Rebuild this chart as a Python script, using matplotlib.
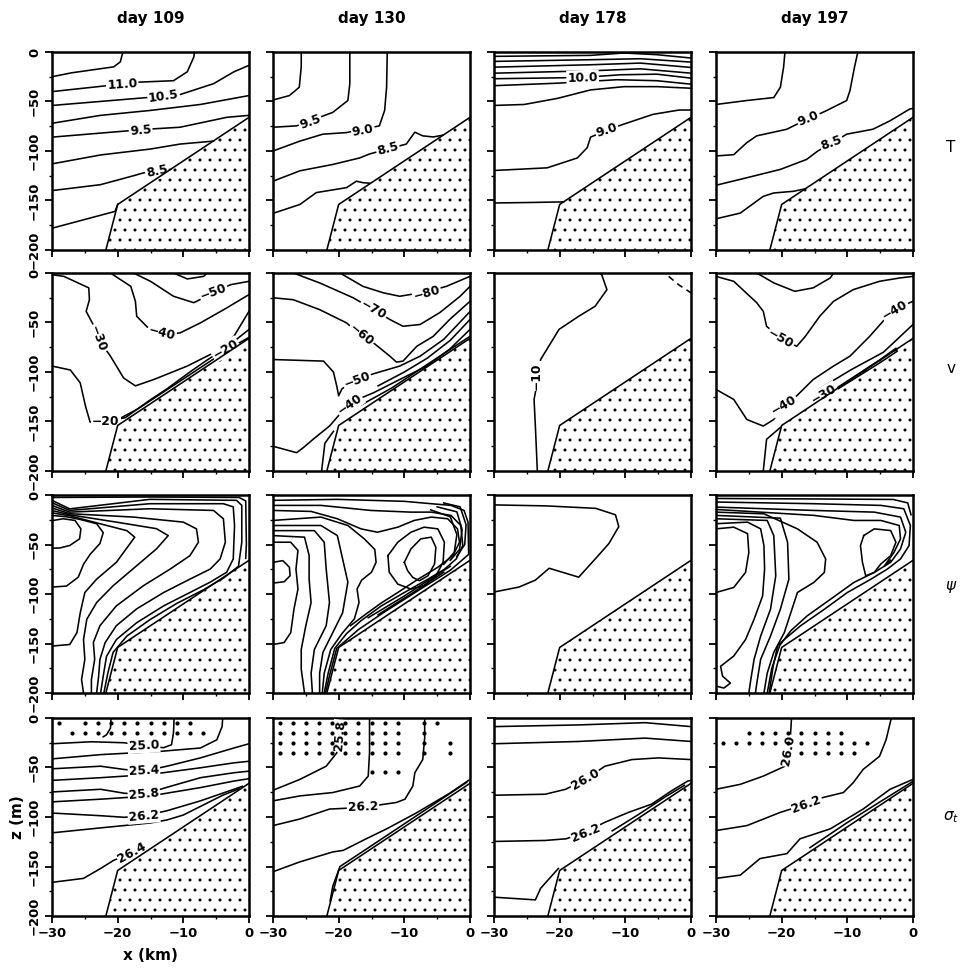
import matplotlib.pyplot as plt
from matplotlib.ticker import MultipleLocator

plt.rcParams['font.family'] = 'DejaVu Sans'
plt.rcParams['hatch.linewidth'] = 0.6
plt.rcParams['mathtext.fontset'] = 'dejavusans'

days = ['day 109', 'day 130', 'day 178', 'day 197']
row_names = ['T', 'v', r'$\psi$', r'$\sigma_t$']
x_ticks = [-30, -20, -10, 0]
z_ticks = [0, -50, -100, -150, -200]

# shelf / slope bottom profile (x km, z m)
topo_x = [-21.8, -20.0, 0.0]
topo_z = [-200, -154, -66]

# ---- temperature contours: lists of (x, z)
T109 = [
    [(-30, -25), (-27, -21), (-20.6, -15), (-19.6, -10), (-19.2, 0)],
    [(-30, -40), (-21.6, -34), (-17, -30.5), (-11.5, -29), (-9.4, -20), (-8.4, -5), (-8.3, 0)],
    [(-30, -54), (-15.5, -46), (-10.5, -43), (-5.4, -32), (-2.3, -20), (0, -13.5)],
    [(-30, -72), (-22.6, -64), (-15, -59), (-7.4, -53), (0, -44)],
    [(-30, -86), (-15.5, -78), (-10.5, -76), (-3.4, -66), (0, -64)],
    [(-30, -113), (-22.6, -104), (-15, -98), (-10.5, -93), (-5.4, -90)],
    [(-30, -140), (-22.6, -134), (-17.6, -125), (-16, -122), (-11.9, -118.5)],
    [(-30, -178), (-25.2, -169.5), (-20.4, -161), (-20, -154)],
]
T109_lab = [('11.0', -19.3, -33, 4), ('10.5', -13, -45, 8), ('9.5', -16.5, -79, 5), ('8.5', -14, -121, 12)]

T130 = [
    [(-30, -48.5), (-27.5, -44), (-26, -35.6), (-25.7, -15), (-25.7, 0)],
    [(-30, -76), (-26.4, -74.6), (-20.9, -61), (-18.6, -49), (-18.3, -32), (-18.3, 0)],
    [(-30, -100), (-25.9, -90), (-22.4, -83), (-18.8, -81.4), (-13.8, -74.6), (-13, -59), (-12.7, -35.6), (-12.6, 0)],
    [(-30, -130.5), (-25.9, -120), (-20.9, -113.6), (-16.8, -107), (-15.3, -103), (-9.7, -93), (-8.4, -81),
     (-7.2, -84.7), (-5.6, -85.8), (-4.1, -84)],
    [(-30, -163), (-25.9, -154), (-23.4, -142), (-18.8, -137), (-17.3, -130.5), (-16.3, -132), (-15.3, -132.5)],
]
T130_lab = [('9.5', -24.3, -71, 20), ('9.0', -16.3, -79, 10), ('8.5', -12.5, -98, 15)]

T178 = [
    [(-30, -4.4), (-15.3, -3.4), (-10.2, -1), (-5.2, -2.7), (0, -6.1)],
    [(-30, -9.5), (-15.3, -7.8), (-7.7, -6.8), (0, -10.2)],
    [(-30, -15.3), (-15.3, -12.9), (-7.7, -11.2), (0, -15.6)],
    [(-30, -21.4), (-15.3, -19), (-7.7, -17), (0, -21.4)],
    [(-30, -27), (-16.8, -25.8), (-10.7, -23), (-5.2, -22.4), (0, -26.4)],
    [(-30, -34), (-20.3, -31.5), (-11.3, -28), (-5.2, -29), (0, -32.5)],
    [(-30, -54), (-25.4, -53), (-20.3, -46.8), (-15.3, -38.3), (-10.2, -35), (-5.2, -35), (0, -36.6)],
    [(-30, -119.7), (-21.9, -117), (-17.3, -107), (-15.8, -96.6), (-15.3, -86), (-12.8, -79),
     (-10.3, -73), (-5.8, -63), (-1.8, -58.6), (0, -58.6)],
    [(-30, -152.5), (-24.4, -152), (-19.4, -151.4)],
]
T178_lab = [('10.0', -16.5, -25.8, 2), ('9.0', -12.8, -79, 18)]

T197 = [
    [(-30, -53), (-25.3, -49), (-21.2, -46), (-20.2, -35.6), (-19.7, -15), (-19.5, 0)],
    [(-30, -105), (-27.3, -103.7), (-25.3, -91.5), (-23.8, -84.7), (-19.2, -78), (-18.2, -74.6), (-13.2, -59.3),
     (-10.1, -49), (-9.6, -39), (-8.9, -15), (-8.4, 0)],
    [(-30, -134.6), (-25.3, -127), (-20.2, -118.6), (-16.2, -108.5), (-14.5, -100), (-12.6, -93), (-10.1, -83),
     (-6.1, -78), (-3.5, -69.5), (-0.5, -57.6), (0, -57)],
    [(-30, -168.5), (-26.3, -162.7), (-22.8, -145.8), (-21.2, -142.4), (-18.2, -140.7), (-16.4, -138.2)],
]
T197_lab = [('9.0', -15.9, -67, 22), ('8.5', -12.4, -92, 20)]

# ---- alongshore velocity contours
V109 = [
    [(-17.6, 0), (-15, -8.4), (-11.5, -23.5), (-8.4, -30), (-5.4, -20), (-2.8, -11.8), (0, -8.4)],
    [(-11.5, 0), (-9.4, -6), (-6.9, -3.4), (-6.4, 0)],
    [(-21.1, 0), (-18, -13.5), (-17.3, -28.6), (-17.1, -43.7), (-15.5, -54.5), (-13, -62), (-10.5, -60.5),
     (-7.4, -50.4), (-3.4, -35.3), (0, -21.8)],
    [(-30, -1.7), (-28.2, -3.4), (-24.4, -15), (-24.3, -27), (-24.8, -38.7), (-23.5, -55), (-22.9, -67),
     (-21.1, -84), (-19.1, -106), (-17.3, -114), (-14.5, -107.6), (-9.4, -94), (-4.9, -79), (-2.3, -64), (0, -38.7)],
    [(-30, -94), (-27.2, -98), (-25.7, -111), (-24.9, -134.5), (-24.2, -150.6), (-21.6, -150), (-18.8, -146),
     (-15, -128), (-12.5, -117), (-9, -100), (-6.4, -88), (-3.6, -76), (0, -57)],
    [(-20.8, -151), (-17, -137.5), (-14, -124.5), (-10, -107), (-6, -89.5), (-2.8, -75.5), (0, -65)],
]
V109_lab = [('−50', -5.4, -19, 20), ('−40', -13.3, -61, -15), ('−30', -23, -66, -70),
            ('−20', -21.8, -150, 0), ('−20', -3.6, -77, 30)]

V130 = [
    [(-19.8, 0), (-16.3, -13.5), (-13.2, -20), (-10.7, -23.5), (-6.6, -19), (-3.6, -13.5), (0, -3.4)],
    [(-26.9, 0), (-22.9, -10), (-17.8, -25), (-14.7, -37), (-12.2, -47), (-10.2, -53.8), (-7.6, -52),
     (-4.6, -40), (-1.5, -23.5), (0, -13.5)],
    [(-30, -25), (-26.9, -27), (-22.9, -37), (-18.8, -50.4), (-16.8, -62), (-14.7, -70.6), (-12.2, -84),
     (-11.2, -90), (-10.2, -89), (-8.1, -74), (-5.6, -64), (-3.1, -47), (0, -28.6)],
    [(-30, -87.4), (-22.3, -89), (-20.8, -100), (-20.3, -114), (-20, -124), (-19.5, -117), (-17.4, -108),
     (-14.8, -102), (-10.7, -94), (-7.6, -84), (-4, -67), (0, -39)],
    [(-14, -114), (-10, -100), (-6.5, -86), (-3, -68), (0, -47)],
    [(-30, -175), (-26.4, -181.5), (-25.4, -176.5), (-23.9, -168), (-21.4, -154.6), (-18.3, -131),
     (-14.7, -121), (-10.7, -107.6), (-6.6, -94), (-3.1, -77), (0, -57)],
    [(-16.5, -133), (-12, -116.5), (-7, -94.5), (-3, -77), (0, -64)],
    [(-22.6, -200), (-22.1, -172), (-20.8, -160)],
]
V130_lab = [('−80', -6.6, -20, 15), ('−70', -14.7, -37, -30), ('−60', -16.6, -63, -40),
            ('−50', -17.2, -108, 20), ('−40', -18.3, -133, 35)]

V178 = [
    [(-23.4, -200), (-23.7, -154.6), (-23.9, -127.7), (-23.4, -110), (-22.9, -87.4), (-20.1, -57),
     (-17.1, -43.7), (-14.6, -33.6), (-12.8, -16.8), (-13.6, -1.7), (-13.8, 0)],
]
V178_lab = [('−10', -23.6, -104, 90)]
V178_dash = [(-3.4, -3.4), (-1.9, -11.8), (0, -20)]

V197 = [
    [(-23.8, 0), (-21.2, -10), (-18, -18.5), (-15.2, -15), (-12.6, -5), (-12.1, 0)],
    [(-30, -3.4), (-27.3, -8.4), (-23.8, -30), (-22.8, -38.7), (-22.3, -53.8), (-20, -67), (-17.7, -74),
     (-16.4, -64), (-14.2, -43.7), (-12.1, -28.6), (-9.1, -16.8), (-5.1, -8.4), (-2, -5), (0, -3.4)],
    [(-30, -117.6), (-27.3, -127.7), (-25.3, -148), (-22.8, -154.6), (-21.2, -148), (-19.7, -133),
     (-17.7, -124), (-15.2, -107.6), (-12.1, -94), (-9.6, -84), (-6.6, -64), (-3, -37), (0, -28.6)],
    [(-14.5, -118), (-9.5, -98), (-4.5, -80), (0, -52)],
    [(-12.5, -120), (-5, -87.5), (-2.6, -76), (-2.4, -79), (-5, -90.5), (-12.5, -121.5)],
    [(-22.8, -200), (-22.3, -168), (-20.2, -156)],
]
V197_lab = [('−50', -20.2, -67, -30), ('−40', -19.7, -133, 30), ('−40', -2.8, -37, 30), ('−30', -13.6, -122, 30)]

# ---- streamfunction contours
P109 = [
    [(-29.8, -25.7), (-28.3, -24), (-26.5, -25.7), (-25.6, -34.2), (-25.8, -44.3), (-27.3, -51), (-28.8, -53.5),
     (-30, -53.8)],
    [(-30, -93), (-27.8, -92), (-26, -83), (-25.2, -70), (-24.2, -60), (-22.7, -49), (-22.2, -38), (-23.2, -29),
     (-25.7, -24.7), (-27.8, -22), (-30, -20.6)],
    [(-30, -152.6), (-27.3, -151), (-26.2, -139), (-25.7, -119), (-25, -98.5), (-23.2, -85), (-20.2, -68),
     (-17.4, -42.6), (-18.6, -36), (-22.7, -29), (-27.3, -21), (-30, -18)],
    [(-25.2, -200), (-25.5, -186.5), (-25, -166), (-25.2, -146), (-24.7, -125.5), (-23.2, -108.6), (-20.7, -91.7),
     (-17.1, -71.4), (-14.1, -54.5), (-12.3, -41), (-14.1, -34), (-20.2, -27.4), (-27.3, -20), (-30, -15.6)],
    [(-24, -200), (-24, -186.5), (-23.5, -166), (-23.7, -149), (-22.7, -132), (-20.2, -112), (-16.1, -91.7),
     (-12, -74.8), (-9, -61.3), (-7.7, -47.7), (-8, -34.2), (-10, -27.4), (-17.6, -22.3), (-27.3, -18.9), (-30, -13)],
    [(-23.2, -200), (-22.9, -183), (-22.7, -166), (-21.9, -149), (-20.2, -132), (-17.1, -115), (-13, -98.5),
     (-9, -85), (-5.9, -74.8), (-4.4, -64.6), (-3.6, -47.7), (-3.9, -24), (-5.4, -15.6), (-15.1, -13.9),
     (-27.3, -17.3), (-30, -10.5)],
    [(-22.6, -200), (-22.2, -183), (-21.7, -163), (-20.2, -146), (-17.1, -129), (-13, -112), (-9, -98.5),
     (-5.9, -88), (-3.4, -78), (-2.4, -64.6), (-2.2, -30.8), (-2.4, -12), (-3.9, -8.8), (-15.1, -8.8),
     (-27.3, -15.6), (-30, -7.8)],
    [(-22.1, -200), (-21.5, -180), (-20.7, -159), (-18.6, -142.5), (-15.1, -126), (-11, -109.5), (-7, -96),
     (-3.9, -84), (-1.6, -72), (-1.1, -47.7), (-1.1, -10.5), (-1.9, -5.4), (-15.1, -4.4), (-27.3, -14),
     (-30, -5.4)],
    [(-30, -2.5), (-15, -2), (-1.5, -2.5), (-0.5, -6), (-0.4, -50), (-0.5, -64)],
]
P130 = [
    [(-30, -68), (-28.5, -66.3), (-27.5, -73), (-27.4, -81.6), (-28.3, -87.6), (-30, -89)],
    [(-30, -47.7), (-27.3, -47.7), (-26.2, -56), (-26.5, -74.8), (-26.2, -95), (-26.8, -115), (-27.3, -139),
     (-28.3, -149), (-30, -151)],
    [(-30, -41), (-25.2, -42.6), (-24.5, -61), (-24.5, -85), (-24.2, -108.6), (-25, -132), (-25.7, -156),
     (-25.7, -176), (-25.2, -200)],
    [(-30, -36), (-23.7, -36), (-22.2, -47.7), (-21.9, -74.8), (-21.4, -108.6), (-21.9, -132), (-23.7, -156),
     (-24.2, -180), (-24, -200)],
    [(-30, -30.8), (-22.7, -30.8), (-20.2, -41), (-19.4, -64.6), (-18.6, -88), (-19.4, -119), (-20.9, -139),
     (-22.4, -159), (-22.9, -180), (-22.9, -200)],
    [(-30, -25.7), (-22.7, -22.3), (-18.6, -30.8), (-16.1, -44.3), (-14.5, -55), (-14.3, -68), (-15, -78),
     (-16.5, -86), (-17.2, -95), (-16.9, -108.6), (-17.6, -125), (-19.5, -140), (-21.2, -156), (-22.2, -180),
     (-22.5, -200)],
    [(-30, -5.4), (-20.2, -4.4), (-10, -6.4), (-5.9, -8.8), (-2.9, -10.5), (-0.9, -15.6), (-0.3, -27.4),
     (-0.2, -60), (-3, -76), (-8, -97), (-13, -118), (-17, -136), (-20.3, -155), (-21.3, -180), (-22, -200)],
    [(-30, -10.5), (-22.7, -10.5), (-15.1, -15.6), (-9, -17.3), (-5.9, -17.3), (-2.9, -20.6), (-1.4, -30.8),
     (-1.1, -51), (-2.1, -64.6), (-3.9, -75), (-6.4, -85), (-10, -98.5), (-13.5, -112), (-16.6, -127),
     (-18.8, -140), (-20.6, -155), (-21.6, -180), (-22.2, -200)],
    [(-30, -15.6), (-24.2, -16.6), (-20.2, -24), (-16.6, -34.2), (-14.1, -37.6), (-11, -32.5), (-8.5, -25.7),
     (-5.9, -22.3), (-3.4, -24), (-1.9, -34.2), (-1.6, -47.7), (-2.6, -61.3), (-4.9, -73), (-7.9, -85),
     (-11, -98.5), (-13.5, -109), (-16, -121), (-18.2, -132)],
    [(-10, -68), (-9, -54.5), (-7.5, -44.3), (-5.9, -42.6), (-5.2, -52.8), (-5.4, -69.7), (-6.4, -81.6),
     (-7.7, -86.6), (-8.7, -83.3), (-9.5, -76.5), (-10, -68)],
    [(-12.5, -61.3), (-11, -47.7), (-9, -37.6), (-7, -32.5), (-4.9, -34.2), (-3.9, -47.7), (-4.1, -68),
     (-5.2, -81.6), (-7, -91.7), (-9, -95), (-11, -90), (-12.3, -78), (-12.5, -61.3)],
    [(-4, -8), (-1.5, -12), (-0.6, -30), (-0.8, -50), (-2, -62)],
    [(-5, -12), (-2, -17), (-1.2, -35), (-1.6, -55), (-3, -66)],
    [(-6, -15), (-3, -22), (-2, -40), (-2.4, -58), (-4, -70)],
    [(-3, -72), (-7, -89), (-10, -102), (-13, -114), (-15.5, -124)],
    [(-4, -78), (-9, -100), (-12, -112.5), (-14, -121)],
]
P178 = [
    [(-30, -10), (-22.1, -11), (-14.5, -13.5), (-11.5, -20), (-11, -32), (-12.5, -49), (-14.3, -62.5),
     (-17.1, -83), (-19.1, -79), (-21.6, -74), (-23.7, -86), (-26.2, -93), (-30, -98)],
]
P197 = [
    [(-30, -34.2), (-27.3, -32.5), (-25.2, -39), (-25, -57.9), (-25.5, -78.2), (-27.3, -93.4), (-30, -98.5)],
    [(-30, -29), (-25.2, -27.4), (-23.2, -34.2), (-22.7, -51.1), (-22.6, -74.8), (-22.9, -101.9), (-24.2, -125.5),
     (-25.5, -146), (-27.3, -162.7), (-29.3, -173), (-29, -183), (-27.8, -190), (-28.8, -195), (-30, -193)],
    [(-30, -24), (-22.2, -25.7), (-21.2, -41), (-20.9, -81.6), (-21.7, -115.4), (-23.2, -142.5), (-24.2, -166),
     (-24.7, -186.5), (-25, -200)],
    [(-30, -20.6), (-20.2, -23.4), (-19.1, -47.7), (-18.9, -85), (-20.2, -115.4), (-21.7, -142.5), (-23.2, -166),
     (-23.7, -186.5), (-24, -200)],
    [(-30, -17.3), (-22.7, -19), (-17.6, -34.2), (-14.6, -47.7), (-13.3, -64.6), (-13.5, -78.2), (-15.1, -88.3),
     (-17.6, -98.5), (-18.6, -118.8), (-19.6, -139), (-21.2, -159), (-22.2, -180), (-22.7, -200)],
    [(-30, -7.1), (-15.1, -8.8), (-4.9, -10.5), (-1.4, -13.9), (-0.4, -30.8), (-0.6, -51.1), (-1.9, -64.6),
     (-3.9, -74.8), (-6.4, -85), (-10, -98.5), (-13.5, -115.4), (-17.1, -132), (-19.6, -146), (-20.6, -152),
     (-21.3, -173), (-21.9, -200)],
    [(-30, -12.2), (-15.1, -15.6), (-5.9, -17.3), (-1.9, -22.3), (-1.1, -37.6), (-1.9, -54.5), (-3.4, -68),
     (-5.9, -78.2), (-9, -88.3), (-12.5, -105), (-16.1, -122), (-18.6, -137), (-20.3, -152), (-21.5, -175),
     (-22.2, -200)],
    [(-30, -14.6), (-15.1, -20.6), (-9, -25.7), (-4.9, -25.7), (-2.1, -30.8), (-1.9, -44.3), (-2.9, -58),
     (-4.4, -72), (-3.4, -66)],
    [(-7.5, -41), (-5.9, -34.2), (-3.4, -35.9), (-2.6, -47.7), (-3.4, -61.3), (-4.9, -69.7), (-5.9, -78.2),
     (-7.2, -81.6), (-7.7, -68), (-8, -51.1), (-7.5, -41)],
    [(-30, -3.5), (-15, -4), (-3, -4.5), (-0.8, -8), (-0.3, -20)],
]

# ---- sigma-t contours
S109 = [
    [(-22.2, -19), (-21.7, -17), (-21.1, -10.3), (-21, 0)],
    [(-30, -26), (-24, -24), (-19, -25), (-16, -28), (-13, -30), (-11.8, -27), (-11.5, -15), (-11.4, 0)],
    [(-30, -41.3), (-22.6, -37), (-13.5, -33.7), (-7.4, -30.3), (-4.9, -22), (-4.1, -8.7), (-4, 0)],
    [(-30, -51.3), (-22.6, -48.7), (-19, -52), (-16, -53.7), (-12.5, -48.7), (-7.4, -40.3), (-2.3, -30.3), (0, -26)],
    [(-30, -63), (-22.6, -60.3), (-15, -57), (-7.4, -50.3), (-2.3, -45.3), (0, -43.7)],
    [(-30, -74.7), (-22.6, -72), (-19, -76), (-16, -77), (-12.5, -70), (-7.4, -60.3), (-2.3, -55.3), (0, -53.7)],
    [(-30, -84.7), (-22.6, -82), (-15, -78.7), (-7.4, -70.3), (-2.3, -63.7), (0, -61.3)],
    [(-30, -96), (-22.6, -98.7), (-19, -100.3), (-16, -98.7), (-12.5, -93.7), (-7.4, -83.7), (-2.3, -72), (-1, -69)],
    [(-30, -116), (-22.6, -111), (-15, -106), (-12.5, -103), (-10, -98), (-7, -88), (-4, -78), (-1.5, -71.5)],
    [(-30, -166), (-25.2, -162), (-22.6, -152), (-20.6, -143.7), (-17.6, -136), (-15.5, -132)],
]
S109_lab = [('25.0', -16, -28, 3), ('25.4', -16, -53.5, 3), ('25.8', -16, -76.5, 5), ('26.2', -16, -99, 5),
            ('26.4', -17.8, -136, 28)]
S109_dots = [(-5, [-29, -25, -23, -21, -19, -17, -15, -13, -11, -9]),
             (-15, [-27, -25, -23, -21, -19, -17, -15, -13, -11, -9, -7])]

S130 = [
    [(-19.8, 0), (-19.8, -15), (-20.3, -35.3), (-21.9, -48.7), (-25.9, -62), (-30, -73)],
    [(-15.3, 0), (-15.3, -35), (-15.5, -58.7), (-16.8, -68.7), (-20.9, -75.3), (-25.9, -78.7), (-30, -83.7)],
    [(-30, -108.7), (-25.9, -102), (-21.4, -92), (-16.3, -90.3), (-11.2, -85.3), (-9.9, -82), (-8.7, -68.7),
     (-8.4, -55.3), (-7.2, -42), (-6.9, -20), (-6.9, 0)],
    [(-30, -155.3), (-25.9, -145.3), (-20.9, -135.3), (-19.3, -133.7), (-15.8, -122), (-12.7, -112), (-8.2, -96),
     (-3.1, -76), (0, -62)],
    [(-21.3, -185), (-20.9, -170), (-19.8, -150), (-15.8, -132.5), (-10.7, -110), (-5.6, -87.5), (-0.5, -65)],
]
S130_lab = [('25.8', -19.8, -18, 85), ('26.2', -16.3, -90, 2)]
S130_dots = [(-5, [-29, -27, -25, -23, -21, -19, -17, -15, -13, -11, -7, -5]),
             (-15, [-29, -27, -25, -23, -21, -19, -17, -15, -13, -11, -7]),
             (-25, [-29, -27, -25, -23, -21, -19, -17, -15, -13, -11, -7, -3]),
             (-35, [-29, -27, -25, -23, -21, -19, -17, -15, -13, -11, -7, -3]),
             (-55, [-15, -13, -11])]

S178 = [
    [(-30, -8.7), (-17.1, -7), (-7, -4.7), (0, -8.7)],
    [(-30, -26), (-17.1, -23.7), (-7, -20.3), (0, -23.7)],
    [(-30, -78), (-22.2, -77), (-19.1, -72), (-16.1, -62), (-13.1, -48.7), (-9, -42), (-5, -40.3), (0, -42)],
    [(-30, -124.7), (-22.2, -123.7), (-19, -122), (-16, -115), (-13.1, -105.3), (-9.5, -95.3), (-6, -87),
     (-3, -73.7), (-0.5, -63.7), (0, -63)],
    [(-30, -181), (-23.7, -183.7), (-22.9, -172), (-20.2, -152)],
    [(-12, -114), (-8, -97.5), (-4, -80), (-1, -68)],
]
S178_lab = [('26.0', -16.1, -62, 30), ('26.2', -16, -116, 22)]

S197 = [
    [(-18.5, 0), (-18.7, -22), (-19.5, -48.7), (-22.8, -58.7), (-26.3, -67), (-30, -72)],
    [(-3.3, 0), (-4.1, -22), (-5.1, -38.7), (-7.6, -52), (-9.1, -65.3), (-10.6, -75.3), (-13.7, -80.3),
     (-16.2, -87), (-20.2, -95.3), (-25.3, -108.7), (-30, -113.7)],
    [(-30, -162), (-26.3, -158.7), (-23.3, -142), (-19.2, -137), (-17.2, -122), (-12.6, -112), (-7.6, -92),
     (-3.5, -72), (0, -62)],
    [(-15.7, -131), (-10.1, -106), (-5.1, -85), (0, -64)],
]
S197_lab = [('26.0', -19, -33, 80), ('26.2', -16.2, -87, 20)]
S197_dots = [(-15, [-25, -23, -21, -19, -17, -15, -13, -11]),
             (-25, [-29, -27, -25, -23, -21, -19, -17, -15, -13, -11, -9, -7]),
             (-35, [-17, -15, -13, -11, -9])]

panel_lines = [[T109, T130, T178, T197],
               [V109, V130, V178, V197],
               [P109, P130, P178, P197],
               [S109, S130, S178, S197]]
panel_labels = [[T109_lab, T130_lab, T178_lab, T197_lab],
                [V109_lab, V130_lab, V178_lab, V197_lab],
                [[], [], [], []],
                [S109_lab, S130_lab, S178_lab, S197_lab]]
panel_dots = {(3, 0): S109_dots, (3, 1): S130_dots, (3, 3): S197_dots}

# layout in pixels of the original page; dpi 120 so the '..' stipple spacing is ~10 px
W, H, DPI = 970, 968, 120
K = 100 / DPI  # keeps point sizes as they were tuned at 100 dpi
col_left = [52, 273, 494, 716]
row_top = [52, 273, 495, 718]
pw, ph = 197, 198
LW = 1.15 * K

fig = plt.figure(figsize=(W / DPI, H / DPI), dpi=DPI)

for r in range(4):
    for c in range(4):
        ax = fig.add_axes([col_left[c] / W, 1 - (row_top[r] + ph) / H, pw / W, ph / H])
        ax.set_xlim(-30, 0)
        ax.set_ylim(-200, 0)

        # stippled slope
        ax.fill(topo_x + [0], topo_z + [-200], facecolor='white', edgecolor='black',
                hatch='..', linewidth=0, zorder=1)
        ax.plot(topo_x, topo_z, color='black', lw=LW, zorder=4)

        for line in panel_lines[r][c]:
            xs = [p[0] for p in line]
            zs = [p[1] for p in line]
            ax.plot(xs, zs, color='black', lw=LW, zorder=2)
        if (r, c) == (1, 2):
            ax.plot([p[0] for p in V178_dash], [p[1] for p in V178_dash], color='black',
                    lw=LW, ls=(0, (4, 3)), zorder=2)

        for txt, lx, lz, rot in panel_labels[r][c]:
            ax.text(lx, lz, txt, rotation=rot, ha='center', va='center', fontsize=8.8 * K,
                    fontweight='bold', zorder=3,
                    bbox=dict(boxstyle='square,pad=0.08', fc='white', ec='none'))

        if (r, c) in panel_dots:
            for dz, dxs in panel_dots[(r, c)]:
                ax.scatter(dxs, [dz] * len(dxs), s=9 * K * K, color='black', zorder=3, linewidths=0)

        ax.set_xticks(x_ticks)
        ax.set_yticks(z_ticks)
        ax.xaxis.set_minor_locator(MultipleLocator(5))
        ax.yaxis.set_minor_locator(MultipleLocator(25))
        ax.tick_params(which='major', direction='out', length=5 * K, width=1.3 * K, top=False, right=False,
                       pad=3 * K)
        ax.tick_params(which='minor', direction='out', length=2.5 * K, width=1.0 * K, top=False, right=False)
        for s in ax.spines.values():
            s.set_linewidth(1.8 * K)

        if c == 0:
            ax.set_yticklabels([f'{v:d}'.replace('-', '−') for v in z_ticks],
                               rotation=90, va='center', fontsize=9.5 * K, fontweight='bold')
        else:
            ax.set_yticklabels([])
        if r == 3:
            ax.set_xticklabels([f'{v:d}'.replace('-', '−') for v in x_ticks],
                               fontsize=9.5 * K, fontweight='bold')
        else:
            ax.set_xticklabels([])

        if r == 0:
            ax.set_title(days[c], fontsize=11 * K, fontweight='bold', pad=21 * K)
        if c == 0 and r == 3:
            ax.set_ylabel('z (m)', fontsize=11 * K, fontweight='bold', labelpad=2 * K)
            ax.set_xlabel('x (km)', fontsize=11 * K, fontweight='bold', labelpad=6 * K)

row_y = [147, 368, 587, 817]
for r in range(4):
    fig.text(951 / W, 1 - row_y[r] / H, row_names[r], fontsize=11 * K, ha='center', va='center')

fig.savefig('out.png', dpi=DPI)
